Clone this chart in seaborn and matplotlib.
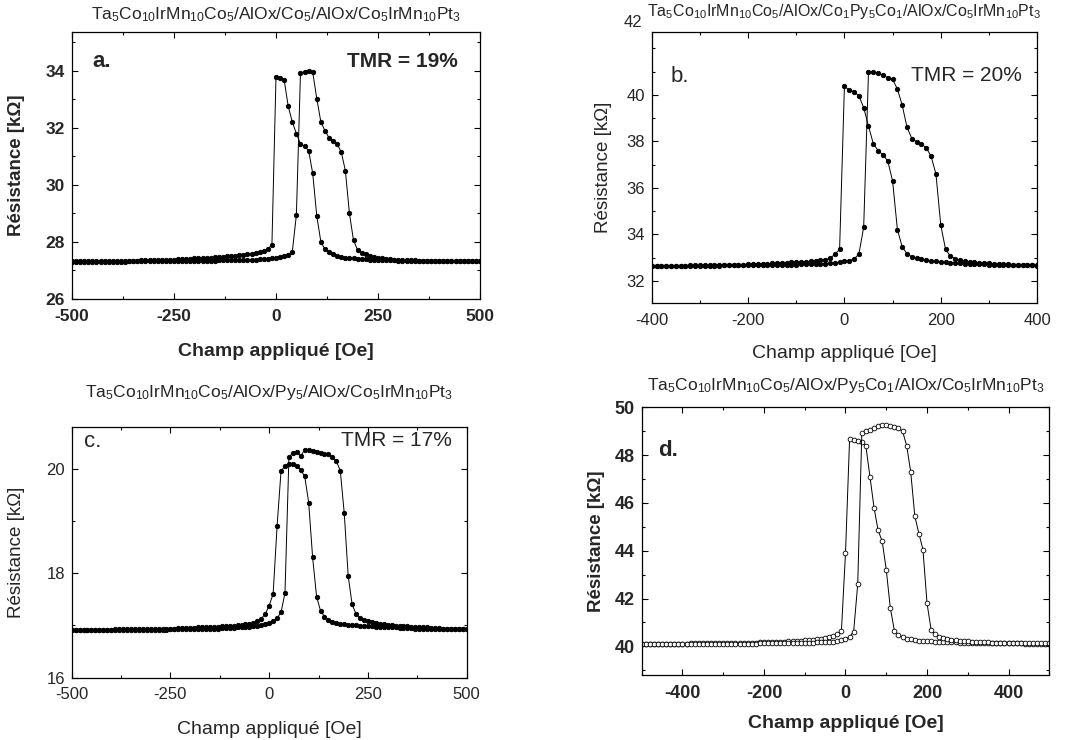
import numpy as np
import matplotlib

matplotlib.use("Agg")

import matplotlib.pyplot as plt
import seaborn as sns
from matplotlib.ticker import MultipleLocator, FixedLocator

# ============================================================
# DATA  (R in kOhm, field sweep in Oe, 10 Oe steps)
# ============================================================

FIELD_500 = np.arange(-500, 501, 10)
FIELD_400 = np.arange(-400, 401, 10)

# --- a. Co5 free layer ---
A_DOWN = [
    27.32, 27.32, 27.32, 27.32, 27.32, 27.32, 27.33, 27.32, 27.33, 27.33,
    27.33, 27.33, 27.34, 27.33, 27.34, 27.34, 27.34, 27.35, 27.35, 27.35,
    27.36, 27.36, 27.37, 27.37, 27.38, 27.38, 27.39, 27.40, 27.40, 27.41,
    27.42, 27.43, 27.43, 27.44, 27.45, 27.46, 27.47, 27.48, 27.49, 27.50,
    27.52, 27.53, 27.55, 27.57, 27.59, 27.62, 27.65, 27.69, 27.75, 27.90,
    33.79, 33.75, 33.68, 32.75, 32.20, 31.80, 31.43, 31.35, 31.20, 30.40,
    28.90, 28.00, 27.74, 27.63, 27.56, 27.51, 27.48, 27.45, 27.43, 27.42,
    27.41, 27.40, 27.39, 27.38, 27.37, 27.37, 27.36, 27.36, 27.35, 27.35,
    27.34, 27.34, 27.34, 27.34, 27.33, 27.33, 27.33, 27.33, 27.33, 27.33,
    27.32, 27.33, 27.32, 27.32, 27.32, 27.32, 27.32, 27.32, 27.32, 27.32,
    27.32,
]
A_UP = [
    27.31, 27.31, 27.31, 27.31, 27.31, 27.31, 27.31, 27.31, 27.31, 27.31,
    27.31, 27.31, 27.31, 27.31, 27.32, 27.32, 27.32, 27.32, 27.32, 27.32,
    27.32, 27.32, 27.32, 27.32, 27.32, 27.33, 27.33, 27.33, 27.33, 27.33,
    27.33, 27.33, 27.34, 27.34, 27.34, 27.34, 27.35, 27.35, 27.35, 27.36,
    27.36, 27.36, 27.37, 27.37, 27.38, 27.38, 27.39, 27.40, 27.41, 27.42,
    27.45, 27.48, 27.50, 27.55, 27.66, 28.95, 33.92, 33.97, 33.98, 33.95,
    33.02, 32.20, 31.90, 31.65, 31.55, 31.42, 31.15, 30.50, 29.00, 28.05,
    27.72, 27.62, 27.56, 27.51, 27.47, 27.44, 27.42, 27.40, 27.39, 27.38,
    27.37, 27.36, 27.36, 27.35, 27.35, 27.34, 27.34, 27.34, 27.33, 27.33,
    27.33, 27.33, 27.33, 27.32, 27.32, 27.32, 27.32, 27.32, 27.32, 27.32,
    27.32,
]

# --- b. Co1Py5Co1 free layer ---
B_DOWN = [
    32.63, 32.63, 32.64, 32.64, 32.64, 32.65, 32.65, 32.65, 32.66, 32.66,
    32.66, 32.67, 32.67, 32.67, 32.68, 32.68, 32.69, 32.69, 32.70, 32.70,
    32.71, 32.72, 32.72, 32.73, 32.74, 32.75, 32.76, 32.77, 32.78, 32.79,
    32.80, 32.81, 32.82, 32.84, 32.86, 32.88, 32.91, 32.96, 33.14, 33.35,
    40.37, 40.20, 40.14, 39.95, 39.45, 38.65, 37.90, 37.60, 37.42, 37.15,
    36.30, 34.20, 33.46, 33.16, 33.03, 32.96, 32.92, 32.88, 32.85, 32.83,
    32.81, 32.79, 32.77, 32.76, 32.75, 32.74, 32.73, 32.72, 32.71, 32.71,
    32.70, 32.69, 32.69, 32.68, 32.68, 32.67, 32.67, 32.66, 32.66, 32.66,
    32.65,
]
B_UP = [
    32.62, 32.62, 32.62, 32.63, 32.63, 32.63, 32.63, 32.64, 32.64, 32.64,
    32.64, 32.65, 32.65, 32.65, 32.65, 32.66, 32.66, 32.66, 32.67, 32.67,
    32.67, 32.67, 32.68, 32.68, 32.68, 32.69, 32.69, 32.69, 32.70, 32.70,
    32.70, 32.71, 32.71, 32.72, 32.72, 32.73, 32.74, 32.75, 32.77, 32.80,
    32.83, 32.87, 32.93, 33.15, 34.30, 40.99, 40.97, 40.94, 40.84, 40.74,
    40.66, 40.25, 39.55, 38.60, 38.12, 37.98, 37.88, 37.72, 37.35, 36.60,
    34.40, 33.35, 33.06, 32.95, 32.89, 32.85, 32.82, 32.80, 32.78, 32.76,
    32.75, 32.74, 32.73, 32.72, 32.71, 32.70, 32.70, 32.69, 32.69, 32.68,
    32.68,
]

# --- c. Py5 free layer ---
C_DOWN = [
    16.92, 16.92, 16.92, 16.92, 16.92, 16.92, 16.92, 16.92, 16.92, 16.92,
    16.92, 16.93, 16.93, 16.93, 16.93, 16.93, 16.93, 16.93, 16.93, 16.93,
    16.93, 16.93, 16.94, 16.94, 16.94, 16.94, 16.94, 16.95, 16.95, 16.95,
    16.95, 16.95, 16.96, 16.96, 16.96, 16.97, 16.97, 16.97, 16.98, 16.98,
    16.99, 16.99, 17.00, 17.01, 17.02, 17.03, 17.04, 17.08, 17.13, 17.22,
    17.38, 17.60, 18.90, 19.95, 20.05, 20.08, 20.08, 20.05, 19.97, 19.85,
    19.35, 18.30, 17.55, 17.28, 17.17, 17.11, 17.07, 17.05, 17.03, 17.02,
    17.01, 17.00, 17.00, 16.99, 16.99, 16.98, 16.98, 16.97, 16.97, 16.97,
    16.96, 16.96, 16.96, 16.95, 16.95, 16.95, 16.95, 16.94, 16.94, 16.94,
    16.94, 16.94, 16.93, 16.93, 16.93, 16.93, 16.93, 16.93, 16.93, 16.93,
    16.93,
]
C_UP = [
    16.91, 16.91, 16.91, 16.91, 16.91, 16.91, 16.91, 16.91, 16.91, 16.91,
    16.91, 16.91, 16.91, 16.91, 16.92, 16.92, 16.92, 16.92, 16.92, 16.92,
    16.92, 16.92, 16.92, 16.92, 16.92, 16.93, 16.93, 16.93, 16.93, 16.93,
    16.93, 16.93, 16.93, 16.94, 16.94, 16.94, 16.94, 16.94, 16.95, 16.95,
    16.95, 16.95, 16.96, 16.96, 16.97, 16.97, 16.98, 16.99, 17.00, 17.02,
    17.05, 17.08, 17.14, 17.25, 17.62, 20.22, 20.30, 20.31, 20.24, 20.36,
    20.35, 20.33, 20.31, 20.30, 20.28, 20.27, 20.22, 20.14, 19.96, 19.15,
    17.95, 17.40, 17.22, 17.15, 17.11, 17.08, 17.06, 17.04, 17.03, 17.02,
    17.01, 17.00, 16.99, 16.99, 16.98, 16.98, 16.97, 16.97, 16.96, 16.96,
    16.96, 16.95, 16.95, 16.95, 16.94, 16.94, 16.94, 16.94, 16.93, 16.93,
    16.93,
]

# --- d. Py5Co1 free layer ---
D_DOWN = [
    40.10, 40.10, 40.10, 40.10, 40.10, 40.11, 40.10, 40.11, 40.11, 40.11,
    40.11, 40.11, 40.12, 40.12, 40.12, 40.12, 40.12, 40.13, 40.13, 40.13,
    40.13, 40.14, 40.14, 40.14, 40.15, 40.15, 40.15, 40.16, 40.16, 40.17,
    40.17, 40.18, 40.18, 40.19, 40.20, 40.20, 40.21, 40.22, 40.23, 40.24,
    40.25, 40.26, 40.28, 40.30, 40.32, 40.35, 40.38, 40.43, 40.50, 40.65,
    43.90, 48.66, 48.62, 48.60, 48.55, 48.37, 47.10, 45.80, 44.85, 44.40,
    43.20, 41.60, 40.65, 40.47, 40.37, 40.32, 40.29, 40.26, 40.24, 40.23,
    40.22, 40.21, 40.20, 40.19, 40.18, 40.18, 40.17, 40.17, 40.16, 40.16,
    40.15, 40.15, 40.15, 40.14, 40.14, 40.14, 40.13, 40.13, 40.13, 40.13,
    40.12, 40.12, 40.12, 40.12, 40.11, 40.11, 40.11, 40.11, 40.11, 40.11,
    40.10,
]
D_UP = [
    40.08, 40.08, 40.08, 40.08, 40.08, 40.08, 40.08, 40.08, 40.08, 40.08,
    40.08, 40.08, 40.09, 40.09, 40.09, 40.09, 40.09, 40.09, 40.10, 40.10,
    40.10, 40.10, 40.10, 40.10, 40.11, 40.11, 40.11, 40.11, 40.11, 40.12,
    40.12, 40.12, 40.12, 40.13, 40.13, 40.13, 40.14, 40.14, 40.14, 40.15,
    40.15, 40.16, 40.16, 40.17, 40.17, 40.18, 40.19, 40.20, 40.22, 40.25,
    40.30, 40.40, 40.62, 42.60, 48.92, 49.00, 49.05, 49.15, 49.23, 49.26,
    49.25, 49.22, 49.18, 49.12, 49.00, 48.40, 47.30, 45.45, 44.72, 44.05,
    41.80, 40.70, 40.50, 40.40, 40.34, 40.30, 40.27, 40.25, 40.23, 40.22,
    40.21, 40.20, 40.19, 40.18, 40.17, 40.17, 40.16, 40.16, 40.15, 40.15,
    40.14, 40.14, 40.14, 40.13, 40.13, 40.13, 40.12, 40.12, 40.12, 40.12,
    40.12,
]

TITLES = [
    r"Ta$_5$Co$_{10}$IrMn$_{10}$Co$_5$/AlOx/Co$_5$/AlOx/Co$_5$IrMn$_{10}$Pt$_3$",
    r"Ta$_5$Co$_{10}$IrMn$_{10}$Co$_5$/AlOx/Co$_1$Py$_5$Co$_1$/AlOx/Co$_5$IrMn$_{10}$Pt$_3$",
    r"Ta$_5$Co$_{10}$IrMn$_{10}$Co$_5$/AlOx/Py$_5$/AlOx/Co$_5$IrMn$_{10}$Pt$_3$",
    r"Ta$_5$Co$_{10}$IrMn$_{10}$Co$_5$/AlOx/Py$_5$Co$_1$/AlOx/Co$_5$IrMn$_{10}$Pt$_3$",
]
LETTERS = ["a.", "b.", "c.", "d."]
TMR_TEXT = ["TMR = 19%", "TMR = 20%", "TMR = 17%", None]

XLABEL = "Champ appliqué [Oe]"
YLABEL = "Résistance [kΩ]"

# ============================================================
# STYLE
# ============================================================

sns.set_style("ticks")
plt.rcParams["font.family"] = ["Liberation Sans", "DejaVu Sans"]
plt.rcParams["mathtext.fontset"] = "custom"
plt.rcParams["mathtext.rm"] = "Liberation Sans"
plt.rcParams["mathtext.default"] = "regular"
plt.rcParams["axes.unicode_minus"] = False

# axes rectangles in figure fraction (from 1083x740 layout)
PANELS = [
    dict(rect=[0.0665, 0.596, 0.3767, 0.3612], field=FIELD_500, down=A_DOWN, up=A_UP,
         xlim=(-500, 500), xticks=[-500, -250, 0, 250, 500], xmin=125,
         ylim=(26, 35.37), yticks=[26, 28, 30, 32, 34],
         bold=True, open_mk=False, title_y=1.062, title_fs=12.5, ylab_x=-0.115,
         xlab_y=-0.165, letter_xy=(0.05, 0.89), tmr_xy=(0.945, 0.89), tsize=12.5),
    dict(rect=[0.6018, 0.5901, 0.3558, 0.3666], field=FIELD_400, down=B_DOWN, up=B_UP,
         xlim=(-400, 400), xticks=[-400, -200, 0, 200, 400], xmin=100,
         ylim=(31.03, 42.7), yticks=[32, 34, 36, 38, 40],
         bold=False, open_mk=False, title_y=1.075, title_fs=11.5, ylab_x=-0.103,
         xlab_y=-0.155, letter_xy=(0.05, 0.835), tmr_xy=(0.96, 0.838), tsize=12),
    dict(rect=[0.0662, 0.0842, 0.3647, 0.3392], field=FIELD_500, down=C_DOWN, up=C_UP,
         xlim=(-500, 500), xticks=[-500, -250, 0, 250, 500], xmin=125,
         ylim=(16, 20.8), yticks=[16, 18, 20],
         bold=False, open_mk=False, title_y=1.138, title_fs=12.5, ylab_x=-0.118,
         xlab_y=-0.172, letter_xy=(0.03, 0.94), tmr_xy=(0.962, 0.945), tsize=12),
    dict(rect=[0.5925, 0.0878, 0.3764, 0.3618], field=FIELD_500, down=D_DOWN, up=D_UP,
         xlim=(-500, 500), xticks=[-400, -200, 0, 200, 400], xmin=100,
         ylim=(38.8, 50), yticks=[40, 42, 44, 46, 48, 50],
         bold=True, open_mk=True, title_y=1.083, title_fs=12.5, ylab_x=-0.09,
         xlab_y=-0.15, letter_xy=(0.04, 0.84), tmr_xy=None, tsize=13),
]


def draw_panel(fig, i, p):
    ax = fig.add_axes(p["rect"])
    weight = "bold" if p["bold"] else "normal"
    face = "white" if p["open_mk"] else "black"
    for vals in (p["down"], p["up"]):
        sns.lineplot(x=p["field"], y=vals, ax=ax, color="black", linewidth=0.7,
                     marker="o", markersize=3.4 if p["open_mk"] else 3.2,
                     markerfacecolor=face, markeredgecolor="black",
                     markeredgewidth=0.6, sort=False, estimator=None, legend=False)

    ax.set_xlim(*p["xlim"])
    ax.set_ylim(*p["ylim"])
    ax.xaxis.set_major_locator(FixedLocator(p["xticks"]))
    ax.xaxis.set_minor_locator(MultipleLocator(p["xmin"]))
    ax.yaxis.set_major_locator(FixedLocator(p["yticks"]))
    ax.yaxis.set_minor_locator(MultipleLocator(1))
    ax.tick_params(which="both", direction="in", top=True, right=True,
                   width=0.8, color="black")
    ax.tick_params(which="major", length=4.5, labelsize=p["tsize"])
    ax.tick_params(axis="x", which="major", pad=7)
    ax.tick_params(axis="y", which="major", pad=5)
    ax.tick_params(which="minor", length=2.5)
    for lab in ax.get_xticklabels() + ax.get_yticklabels():
        lab.set_fontweight(weight)
    for sp in ax.spines.values():
        sp.set_color("black"); sp.set_linewidth(0.9)

    ax.set_xlabel(XLABEL, fontsize=14, fontweight=weight)
    ax.set_ylabel(YLABEL, fontsize=13.5, fontweight=weight)
    ax.xaxis.set_label_coords(0.5, p["xlab_y"])
    ax.yaxis.set_label_coords(p["ylab_x"], 0.5)

    ax.text(0.5, p["title_y"], TITLES[i], transform=ax.transAxes,
            ha="center", va="center", fontsize=p["title_fs"])
    ax.text(*p["letter_xy"], LETTERS[i], transform=ax.transAxes, ha="left",
            va="center", fontsize=16, fontweight=weight)
    if p["tmr_xy"] is not None:
        ax.text(*p["tmr_xy"], TMR_TEXT[i], transform=ax.transAxes, ha="right",
                va="center", fontsize=15, fontweight=weight)
    if i == 1:
        # stray "42" label sitting above the frame in the original
        ax.text(-0.025, 1.035, "42", transform=ax.transAxes, ha="right",
                va="center", fontsize=p["tsize"])
    return ax


fig = plt.figure(figsize=(10.83, 7.40), dpi=100)
for i, p in enumerate(PANELS):
    draw_panel(fig, i, p)

fig.savefig("out.png", dpi=100, facecolor="white")
plt.close(fig)
